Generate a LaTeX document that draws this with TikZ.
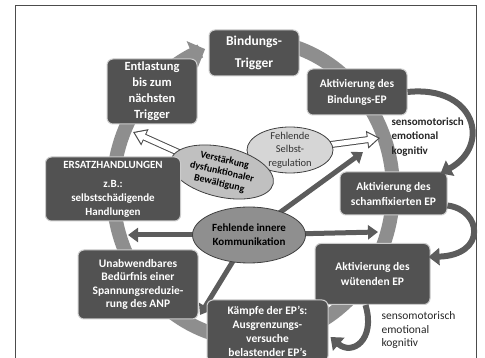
\documentclass[tikz,border=0pt]{standalone}
\usepackage{fontspec}
\setmainfont{Carlito}
\usetikzlibrary{arrows.meta,shapes.geometric}
\pgfdeclarelayer{ringlayer}
\pgfdeclarelayer{arrowlayer}
\pgfsetlayers{ringlayer,arrowlayer,main}
\definecolor{boxgray}{HTML}{525252}
\definecolor{ringgray}{HTML}{8E8E8E}
\definecolor{arrowgray}{HTML}{5C5C5C}
\definecolor{pale}{HTML}{D6D6D6}
\definecolor{midpale}{HTML}{C0C0C0}
\definecolor{deep}{HTML}{8F8F8F}
\tikzset{
	phase/.style={rectangle, rounded corners=6pt, fill=boxgray, draw=black!20, line width=1pt, text=white, align=center, inner sep=1pt, font=\bfseries\fontsize{11.5}{15}\selectfont},
	bubble/.style={ellipse, draw=black!75, line width=0.8pt, align=center, inner sep=0pt},
	push/.style={draw=arrowgray, line width=5pt, -{Triangle[length=10pt,width=14pt]}},
	cycle/.style={draw=arrowgray, line width=6pt, -{Triangle[length=11pt,width=17pt]}},
	hollowout/.style={draw=black!70, line width=7pt, -{Triangle[length=13pt,width=17pt]}},
	hollowin/.style={draw=white, line width=5pt, shorten >=2pt, -{Triangle[length=10pt,width=13pt]}},
	sense/.style={anchor=west, align=left, text=black!85}
}
\begin{document}
\begin{tikzpicture}[x=1pt, y=-1pt]
	\useasboundingbox (0,0) rectangle (485,358);
	\clip (0,0) rectangle (485,358);
	\begin{pgfonlayer}{ringlayer}
		\draw [black!70, line width=1pt] (15,6) rectangle (476,380);
		% big cycle
		\draw [ringgray, line width=14pt, -{Triangle[length=14pt,width=28pt]}] plot [domain=-80:250, samples=90, smooth] ({253+140*cos(\x)}, {190+150*sin(\x)});
	\end{pgfonlayer}
	% ellipses
	\node [bubble, fill=deep, minimum width=113pt, minimum height=56pt, font=\bfseries\fontsize{11}{14}\selectfont] (komm) at (249,235) {Fehlende innere\\Kommunikation};
	\node [bubble, fill=pale, minimum width=86pt, minimum height=46pt, inner sep=-3pt, text=black!80, font=\fontsize{10.5}{13.5}\selectfont] (selbst) at (290,150) {Fehlende\\Selbst-\\regulation};
	\node [bubble, fill=midpale, minimum width=105pt, minimum height=50pt, inner sep=-2pt, rotate=-13, font=\bfseries\fontsize{10}{12}\selectfont] (verst) at (222,172) {Verstärkung\\dysfunktionaler\\Bewältigung};
	\coordinate (k-ne) at (363,152);
	\coordinate (k-w) at (128,235);
	\coordinate (k-e) at (378,232);
	\coordinate (k-sw) at (200,315);
	\coordinate (entl-tip) at (133,132);
	\coordinate (selbst-tip) at (380,138);
	\begin{pgfonlayer}{arrowlayer}
		\draw [push] (komm.center) -- (k-ne);
		\draw [push] (komm.center) -- (k-w);
		\draw [push] (komm.center) -- (k-e);
		\draw [push] (komm.center) -- (k-sw);
		\draw [hollowout] (verst.center) -- (entl-tip);
		\draw [hollowin] (verst.center) -- (entl-tip);
		\draw [hollowout] (selbst.center) -- (selbst-tip);
		\draw [hollowin] (selbst.center) -- (selbst-tip);
	\end{pgfonlayer}
	% boxes
	\node [phase, minimum width=90pt, minimum height=46pt, font=\bfseries\fontsize{13.5}{22}\selectfont] (trigger) at (254,53) {Bindungs-\\Trigger};
	\node [phase, minimum width=100pt, minimum height=46pt, font=\bfseries\fontsize{11.5}{16}\selectfont] (bindep) at (357,92) {Aktivierung des\\Bindungs-EP};
	\node [phase, minimum width=90pt, minimum height=65pt, font=\bfseries\fontsize{12.5}{16}\selectfont] (entlast) at (152,91.5) {Entlastung\\bis zum\\nächsten\\Trigger};
	\node [phase, minimum width=135pt, minimum height=64pt, font=\bfseries\fontsize{11}{14}\selectfont] (ersatz) at (113,189) {ERSATZHANDLUNGEN\\[5pt]z.B.:\\selbstschädigende\\Handlungen};
	\node [phase, minimum width=107pt, minimum height=43pt] (scham) at (393.5,193.5) {Aktivierung des\\schamfixierten EP};
	\node [phase, minimum width=115pt, minimum height=61pt] (wut) at (372.5,274) {Aktivierung des\\wütenden EP};
	\node [phase, minimum width=120pt, minimum height=69pt, font=\bfseries\fontsize{11.5}{13.5}\selectfont] (unab) at (138,284.5) {Unabwendbares\\Bedürfnis einer\\Spannungsreduzie-\\rung des ANP};
	\node [phase, minimum width=121pt, minimum height=62pt, font=\bfseries\fontsize{11.5}{14}\selectfont] (kampf) at (267.5,331) {Kämpfe der EP’s:\\Ausgrenzungs-\\versuche\\belastender EP’s};
	% loops between the EP boxes
	\draw [cycle] (bindep.east) .. controls (475,85) and (492,145) .. ([xshift=-7pt, yshift=-2pt]scham.north east);
	\draw [cycle] ([yshift=10pt]scham.south east) .. controls (482,210) and (487,255) .. ([yshift=17pt, xshift=-2pt]wut.east);
	\draw [cycle] ([xshift=-7pt]wut.south) .. controls (376,340) and (352,356) .. ([xshift=2pt, yshift=-6pt]kampf.east);
	\node [sense, font=\bfseries\fontsize{11}{14.5}\selectfont] (sense-a) at (388,137) {sensomotorisch\\emotional\\kognitiv};
	\node [sense, font=\fontsize{11.5}{13.5}\selectfont] (sense-b) at (378,330) {sensomotorisch\\emotional\\kognitiv};
\end{tikzpicture}
\end{document}
